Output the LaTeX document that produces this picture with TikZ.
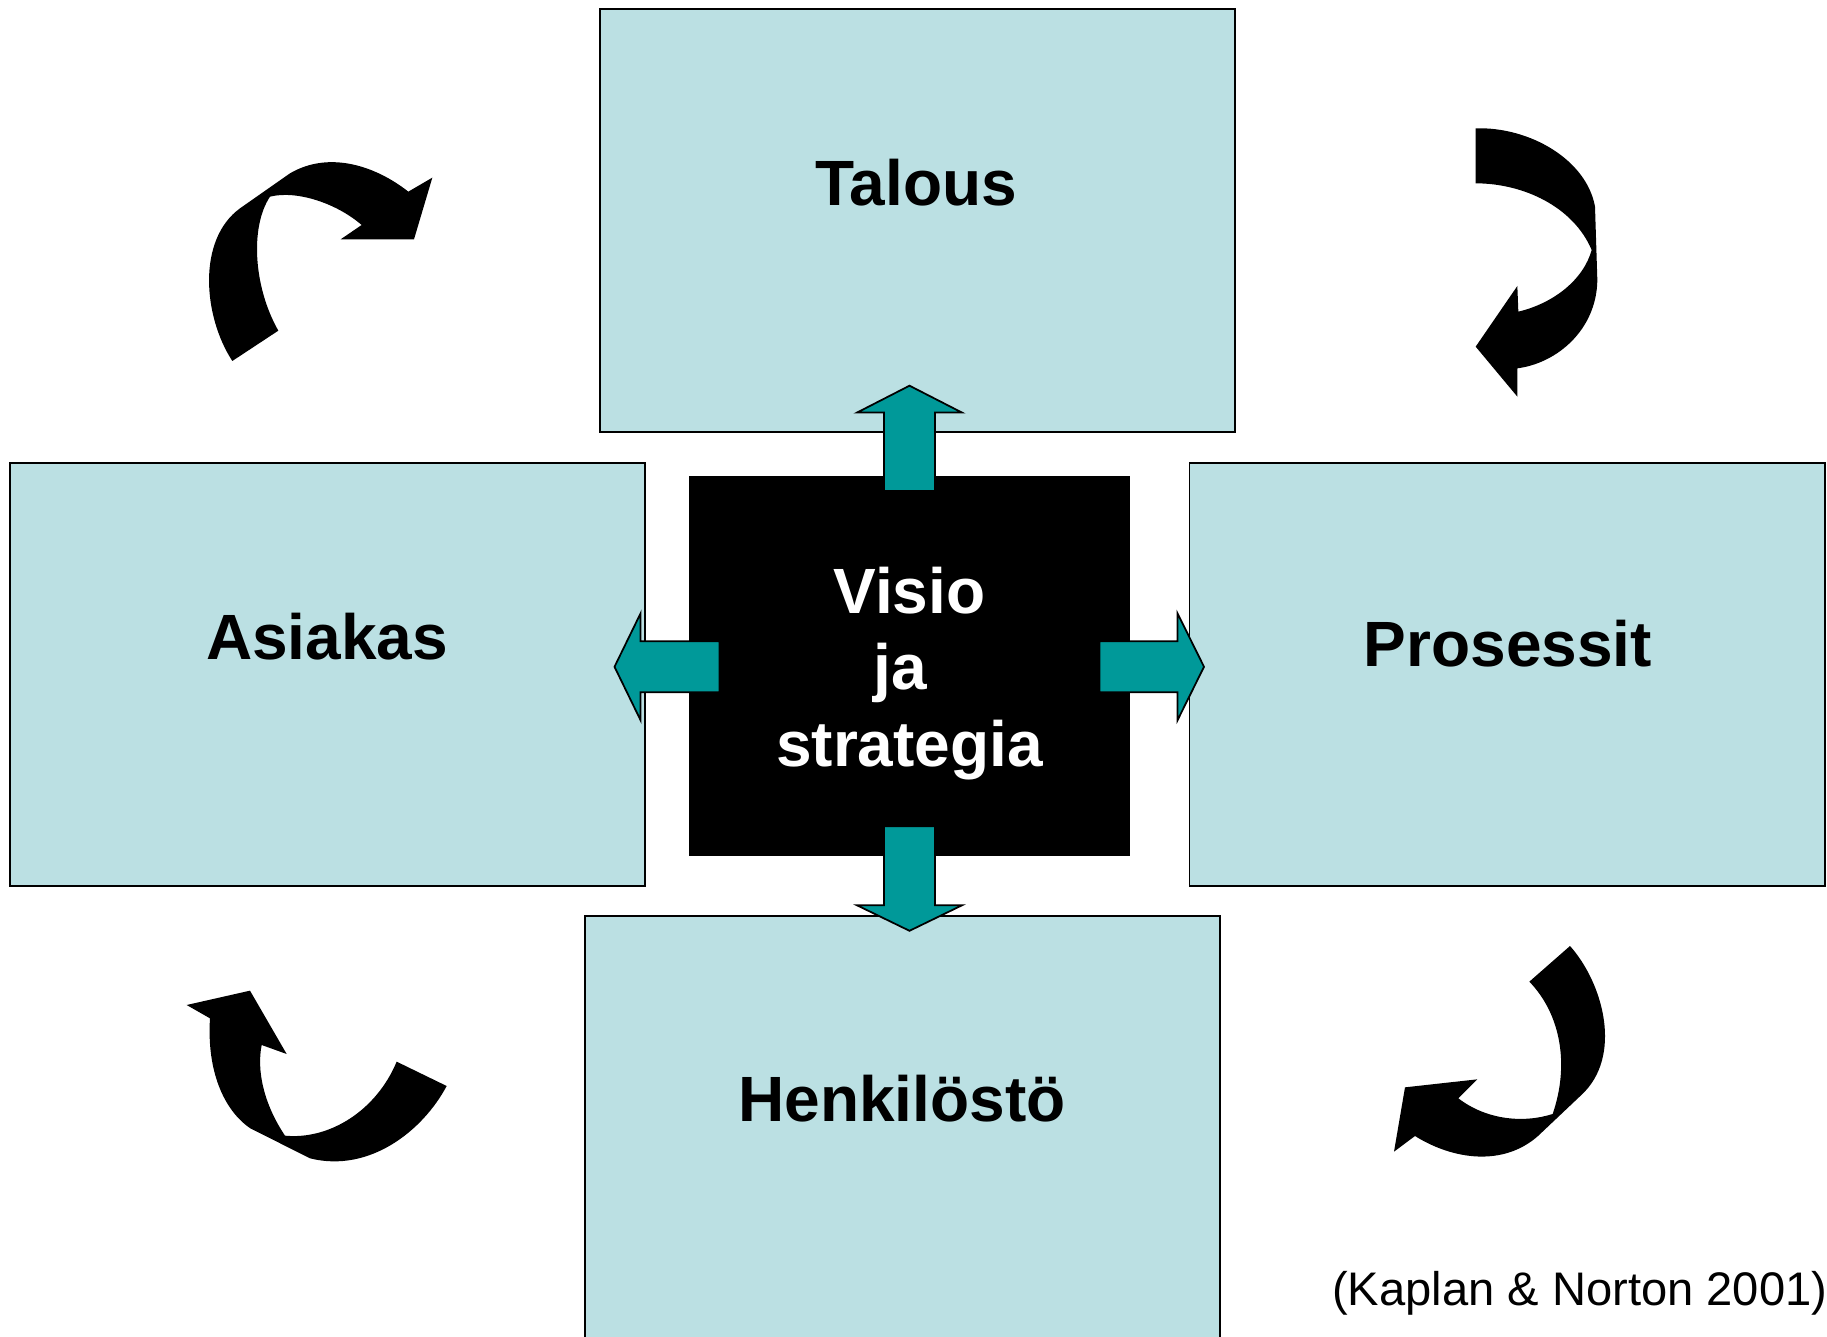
\documentclass[tikz,border=0pt]{standalone}
\usepackage{fontspec}
\setmainfont{Liberation Sans}
\definecolor{boxblue}{RGB}{187,224,227}
\definecolor{arrowteal}{RGB}{0,153,153}
\begin{document}
\begin{tikzpicture}[x=0.01cm,y=-0.01cm,
  panel/.style={draw=black, line width=0.5pt, fill=boxblue, inner sep=0pt,
    minimum width=6.35cm, minimum height=4.23cm, anchor=north west},
  lbl/.style={font=\fontsize{18.2}{21.8}\selectfont\bfseries, inner sep=0pt, anchor=base},
  wlbl/.style={lbl, text=white},
  bigarrow/.style={fill=arrowteal, draw=black, line width=0.5pt, line join=miter},
  curly/.style={fill=black}]
\clip (0,0) rectangle (1827,1337);
% boxes
\node[panel] (talous) at (599,8) {};
\node[panel] (asiakas) at (9,462) {};
\node[panel] (prosessit) at (1188.5,462) {};
\node[panel, minimum height=5cm] (henk) at (584,915) {};
\node[fill=black, inner sep=0pt, minimum width=4.41cm, minimum height=3.80cm] (center) at (909.5,666.3) {};
% labels
\node[lbl] (tl) at (916,206) {Talous};
\node[lbl] (al) at (327,660) {Asiakas};
\node[lbl] (pl) at (1508,667) {Prosessit};
\node[lbl] (hl) at (902,1121) {Henkilöstö};
\node[wlbl] (v1) at (909.5,613.3) {Visio};
\node[wlbl] (v2) at (900,690) {ja};
\node[wlbl] (v3) at (909.5,766.2) {strategia};
\node[inner sep=0pt, anchor=base west, font=\fontsize{13.4}{16}\selectfont] (cite) at (1331.5,1305) {(Kaplan \& Norton 2001)};
% teal block arrows
\draw[bigarrow] (884,491) -- (884,412.6) -- (857,412.6) -- (909.5,385.7) -- (962,412.6) -- (935,412.6) -- (935,491) -- cycle;
\draw[bigarrow] (884,826.3) -- (884,905.3) -- (857,905.3) -- (909.5,930.8) -- (962,905.3) -- (935,905.3) -- (935,826.3) -- cycle;
\draw[bigarrow] (719.4,641.3) -- (640.6,641.3) -- (640.6,613.3) -- (614.5,666.8) -- (640.6,720.3) -- (640.6,692.3) -- (719.4,692.3) -- cycle;
\draw[bigarrow] (1099.6,641.3) -- (1177.5,641.3) -- (1177.5,613.3) -- (1204,666.8) -- (1177.5,720.3) -- (1177.5,692.3) -- (1099.6,692.3) -- cycle;
% curved arrows
\begin{scope}[shift={(190,140)}, scale=0.33333]
\fill[curly] (127,663) .. controls (40,530) and (20,300) .. (150,205) -- (300,100) .. controls (420,30) and (560,80) .. (655,155) -- (727,113) -- (672,298) -- (452,298) -- (515,255) .. controls (440,190) and (320,150) .. (240,170) .. controls (180,260) and (190,440) .. (265,572) -- cycle;
\end{scope}
\begin{scope}[shift={(1440,110)}, scale=0.33333]
\fill[curly] (107,55) .. controls (270,50) and (440,150) .. (465,290) -- (472,510) .. controls (470,660) and (350,760) .. (232,775) -- (232,860) -- (107,710) -- (232,528) -- (235,605) .. controls (340,580) and (430,510) .. (455,420) .. controls (400,290) and (250,220) .. (107,220) -- cycle;
\end{scope}
\begin{scope}[shift={(170,970)}, scale=0.33333]
\fill[curly] (120,145) .. controls (110,300) and (160,420) .. (241,475) -- (420,565) .. controls (600,610) and (760,480) .. (830,348) -- (680,275) .. controls (620,420) and (480,510) .. (345,497) .. controls (280,400) and (260,300) .. (275,225) -- (350,252) -- (240,62) -- (50,105) -- cycle;
\end{scope}
\begin{scope}[shift={(1370,930)}, scale=0.33333]
\fill[curly] (600,48) .. controls (700,160) and (760,380) .. (633,496) -- (504,618) .. controls (400,710) and (250,690) .. (135,618) -- (72,665) -- (105,472) -- (322,448) -- (265,505) .. controls (350,570) and (460,580) .. (548,552) .. controls (600,400) and (570,250) .. (478,155) -- cycle;
\end{scope}
\end{tikzpicture}
\end{document}
